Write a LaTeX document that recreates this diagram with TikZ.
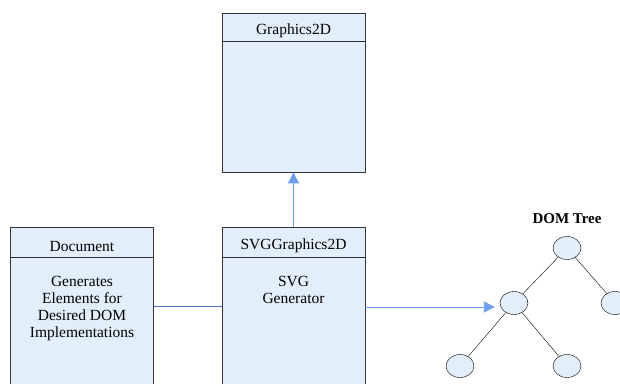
\documentclass[tikz,border=0pt]{standalone}
\usepackage{fontspec}
\setmainfont{Liberation Serif}
\usetikzlibrary{positioning,shapes.geometric,arrows.meta}
\definecolor{boxfill}{HTML}{E2EFFA}
\definecolor{linkblue}{HTML}{4F74C4}
\definecolor{arrowblue}{HTML}{4A86EE}
\begin{document}
\begin{tikzpicture}[x=1pt,y=-1pt,
		classbox/.style={draw=black!80,fill=boxfill,line width=0.8pt,minimum width=143pt},
		boxtext/.style={font=\fontsize{15.5}{17}\selectfont,align=center,inner sep=0pt},
		treenode/.style={draw,ellipse,fill=boxfill,minimum width=28pt,minimum height=23pt,inner sep=0pt},
		blueline/.style={draw=arrowblue!80,line width=0.9pt},
		bluetip/.style={-{Triangle[width=11pt,length=11pt]}}]
		\useasboundingbox (0,0) rectangle (620,383);
		\clip (0,0) rectangle (620,383);
		
		% Class boxes
		\node[classbox,minimum height=159pt] (graphics) at (293.5,92.5) {};
		\node[classbox,minimum height=180pt] (svggen) at (293.5,317) {};
		\node[classbox,minimum height=180pt] (document) at (82,317) {};
		
		% Title compartments
		\draw[black!80,line width=0.8pt] ([yshift=-29pt]graphics.north west) -- ([yshift=-29pt]graphics.north east);
		\draw[black!80,line width=0.8pt] ([yshift=-31pt]svggen.north west) -- ([yshift=-31pt]svggen.north east);
		\draw[black!80,line width=0.8pt] ([yshift=-31pt]document.north west) -- ([yshift=-31pt]document.north east);
		\node[boxtext] (graphicstitle) at (293.5,31) {Graphics2D};
		\node[boxtext] (svgtitle) at (293.5,246) {SVGGraphics2D};
		\node[boxtext] (doctitle) at (82,246) {Document};
		
		% Body texts
		\node[boxtext,anchor=north] (svgbody) at (293.5,276) {SVG\\Generator};
		\node[boxtext,anchor=north] (docbody) at (82,276) {Generates\\Elements for\\Desired DOM\\Implementations};
		
		% DOM tree
		\node[font=\fontsize{15}{17}\selectfont\bfseries] (treelabel) at (567,219) {DOM Tree};
		\node[treenode] (root) at (567,248) {};
		\node[treenode] (mid) at (514,303) {};
		\node[treenode] (right) at (615,303) {};
		\node[treenode] (leftleaf) at (460,366) {};
		\node[treenode] (rightleaf) at (567,366) {};
		\draw (root) -- (mid);
		\draw (root) -- (right);
		\draw (mid) -- (leftleaf);
		\draw (mid) -- (rightleaf);
		
		% Connectors
		\draw[linkblue,line width=1pt] (document.east |- 0,306) -- (svggen.west |- 0,306);
		\draw[blueline,bluetip] (svggen.east |- 0,307) -- ([xshift=-5pt]mid.west |- 0,307);
		\draw[blueline,bluetip] (svggen.north) -- (graphics.south);
	\end{tikzpicture}
\end{document}
